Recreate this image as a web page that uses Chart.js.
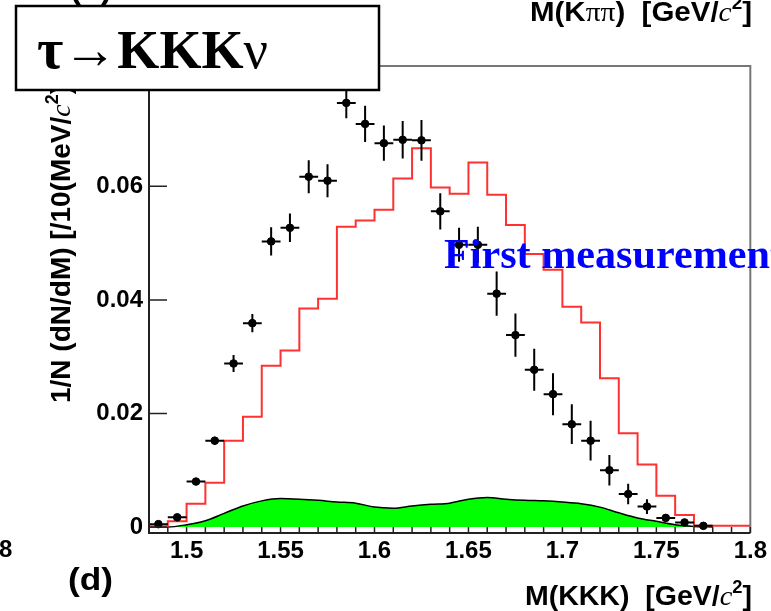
<!DOCTYPE html>
<html>
<head>
<meta charset="utf-8">
<script src="https://cdn.jsdelivr.net/npm/chart.js@4.4.1/dist/chart.umd.min.js"></script>
<style>
  html, body { margin: 0; padding: 0; background: #fff; }
  #wrap { width: 771px; height: 611px; }
</style>
</head>
<body>
<div id="wrap"><canvas id="myChart" width="771" height="611"></canvas></div>
<script>
// bin edges / centres of the M(KKK) histogram (10 MeV bins)
const binEdges = [1.48, 1.49, 1.50, 1.51, 1.52, 1.53, 1.54, 1.55, 1.56, 1.57, 1.58,
    1.59, 1.60, 1.61, 1.62, 1.63, 1.64, 1.65, 1.66, 1.67, 1.68, 1.69, 1.70,
    1.71, 1.72, 1.73, 1.74, 1.75, 1.76, 1.77, 1.78, 1.79, 1.80];
const binCenters = [1.485, 1.495, 1.505, 1.515, 1.525, 1.535, 1.545, 1.555, 1.565, 1.575,
    1.585, 1.595, 1.605, 1.615, 1.625, 1.635, 1.645, 1.655, 1.665, 1.675,
    1.685, 1.695, 1.705, 1.715, 1.725, 1.735, 1.745, 1.755, 1.765, 1.775, 1.785, 1.795];

// data points (black) with errors
const dataValues = [0.0005, 0.0017, 0.0080, 0.0152, 0.0288, 0.0359, 0.0503, 0.0527, 0.0617, 0.0610,
    0.0747, 0.0710, 0.0676, 0.0682, 0.0681, 0.0556, 0.0497, 0.0497, 0.0411, 0.0338,
    0.0277, 0.0234, 0.0181, 0.0152, 0.0100, 0.0058, 0.0036, 0.0016, 0.0008, 0.0002, null, null];
const dataErrors = [0.0003, 0.0005, 0.0006, 0.0007, 0.0015, 0.0016, 0.0025, 0.0025, 0.0029, 0.0029,
    0.0027, 0.0032, 0.0031, 0.0033, 0.0036, 0.0032, 0.0030, 0.0032, 0.0039, 0.0038,
    0.0037, 0.0037, 0.0035, 0.0035, 0.0027, 0.0018, 0.0013, 0.0007, 0.0005, 0.0003, null, null];

// red histogram
const mcValues = [0.0001, 0.0010, 0.0041, 0.0078, 0.0152, 0.0194, 0.0284, 0.0311, 0.0385, 0.0402,
    0.0529, 0.0540, 0.0559, 0.0614, 0.0667, 0.0598, 0.0587, 0.0642, 0.0585, 0.0532,
    0.0481, 0.0453, 0.0388, 0.0360, 0.0262, 0.0165, 0.0110, 0.0055, 0.0021, 0.0002, 0.0002, 0.0002];

// green background
const bkgMass = [1.48, 1.49, 1.50, 1.51, 1.52, 1.53, 1.54, 1.55, 1.56, 1.57, 1.58, 1.59, 1.60,
    1.61, 1.62, 1.63, 1.64, 1.65, 1.66, 1.67, 1.68, 1.69, 1.70, 1.71, 1.72, 1.73,
    1.74, 1.75, 1.76, 1.77, 1.78];
const bkgValues = [0, 0, 0.0004, 0.0011, 0.0024, 0.0037, 0.0046, 0.0050, 0.0049, 0.0047, 0.0044,
    0.0042, 0.0035, 0.0033, 0.0037, 0.0040, 0.0042, 0.0049, 0.0052, 0.0049, 0.0047,
    0.0046, 0.0044, 0.0041, 0.0035, 0.0025, 0.0016, 0.0010, 0.0004, 0.0001, 0];

const xMajorTicks = [1.5, 1.55, 1.6, 1.65, 1.7, 1.75, 1.8];
const xTickLabels = ['1.5', '1.55', '1.6', '1.65', '1.7', '1.75', '1.8'];
const yTicks = [0, 0.02, 0.04, 0.06, 0.08];
const yTickLabels = ['0', '0.02', '0.04', '0.06', '0.08'];

const SANS = "'Liberation Sans', Arial, sans-serif";
const SERIF = "'Liberation Serif', 'Times New Roman', serif";

// draw a run of text pieces, optionally squeezed to a width and rotated
function drawRich(ctx, parts, x, y, width, rot) {
    ctx.save();
    let total = 0;
    parts.forEach(p => { ctx.font = p.font; p.w = ctx.measureText(p.t).width; total += p.w; });
    const sx = width ? width / total : 1;
    ctx.translate(x, y);
    if (rot) ctx.rotate(rot);
    ctx.scale(sx, 1);
    ctx.textBaseline = 'alphabetic';
    ctx.textAlign = 'left';
    let cx = 0;
    parts.forEach(p => {
        ctx.font = p.font;
        ctx.fillStyle = p.color || '#000';
        ctx.fillText(p.t, cx, p.dy || 0);
        cx += p.w;
    });
    ctx.restore();
}

const decorPlugin = {
    id: 'decor',
    afterDatasetsDraw(chart) {
        const {ctx, scales: {x, y}} = chart;
        ctx.save();
        ctx.strokeStyle = '#000';
        ctx.lineWidth = 2;
        binCenters.forEach((m, i) => {
            if (dataValues[i] === null) return;
            const px = x.getPixelForValue(m);
            const py = y.getPixelForValue(dataValues[i]);
            ctx.beginPath();
            ctx.moveTo(x.getPixelForValue(m - 0.005), py);
            ctx.lineTo(x.getPixelForValue(m + 0.005), py);
            ctx.moveTo(px, y.getPixelForValue(dataValues[i] - dataErrors[i]));
            ctx.lineTo(px, y.getPixelForValue(dataValues[i] + dataErrors[i]));
            ctx.stroke();
        });
        ctx.restore();
    },
    afterDraw(chart) {
        const {ctx, chartArea: a, scales: {x, y}} = chart;
        ctx.save();
        // frame
        ctx.lineWidth = 2;
        ctx.strokeStyle = '#777';
        ctx.beginPath();
        ctx.moveTo(a.left, a.top); ctx.lineTo(a.right, a.top); ctx.lineTo(a.right, a.bottom);
        ctx.stroke();
        ctx.strokeStyle = '#222';
        ctx.beginPath();
        ctx.moveTo(a.left, a.top); ctx.lineTo(a.left, a.bottom); ctx.lineTo(a.right, a.bottom);
        ctx.stroke();
        // ticks, drawn inside the frame
        ctx.lineWidth = 1.5;
        ctx.beginPath();
        x.ticks.forEach(t => {
            const px = x.getPixelForValue(t.value);
            ctx.moveTo(px, a.bottom); ctx.lineTo(px, a.bottom - 6);
        });
        y.ticks.forEach(t => {
            const py = y.getPixelForValue(t.value);
            ctx.moveTo(a.left, py); ctx.lineTo(a.left + 18, py);
        });
        ctx.stroke();
        ctx.restore();

        // y axis title
        drawRich(ctx, [
            {t: '1/N (dN/dM) [/10(MeV/', font: 'bold 28px ' + SANS},
            {t: 'c', font: 'italic 28px ' + SERIF},
            {t: '2', font: 'bold 18px ' + SANS, dy: -12},
            {t: ')]', font: 'bold 28px ' + SANS}
        ], 70, 403, null, -Math.PI / 2);

        // x axis title
        const xt = [
            {t: 'M(KKK)  [GeV/', font: 'bold 28px ' + SANS},
            {t: 'c', font: 'italic 28px ' + SERIF},
            {t: '2', font: 'bold 18px ' + SANS, dy: -12},
            {t: ']', font: 'bold 28px ' + SANS}
        ];
        drawRich(ctx, xt, 525, 605, 227);

        // leftovers of neighbouring panels
        const tt = [
            {t: 'M(K', font: 'bold 28px ' + SANS},
            {t: 'ππ', font: '28px ' + SERIF},
            {t: ')  [GeV/', font: 'bold 28px ' + SANS},
            {t: 'c', font: 'italic 28px ' + SERIF},
            {t: '2', font: 'bold 18px ' + SANS, dy: -12},
            {t: ']', font: 'bold 28px ' + SANS}
        ];
        drawRich(ctx, tt, 530, 21, 222);
        drawRich(ctx, [{t: '(d)', font: 'bold 32px ' + SANS}], 68, 590, 45);
        drawRich(ctx, [{t: '8', font: 'bold 24px ' + SANS}], -1, 557);
        drawRich(ctx, [{t: '(b)', font: 'bold 32px ' + SANS}], 70, -2, 42);

        // channel box
        ctx.save();
        ctx.fillStyle = '#fff';
        ctx.fillRect(16, 6, 363, 84);
        ctx.lineWidth = 2.5;
        ctx.strokeStyle = '#000';
        ctx.strokeRect(16, 6, 363, 84);
        ctx.restore();
        drawRich(ctx, [
            {t: 'τ', font: 'bold 58px ' + SERIF},
            {t: '→', font: 'bold 55px ' + SERIF},
            {t: 'KKK', font: 'bold 55px ' + SERIF},
            {t: 'ν', font: '55px ' + SERIF}
        ], 37, 68, 231);

        drawRich(ctx, [{t: 'First measurement', font: 'bold 42px ' + SERIF, color: '#0000ff'}], 444, 268, 340);
    }
};

const ctx = document.getElementById('myChart').getContext('2d');
const myChart = new Chart(ctx, {
    type: 'scatter',
    data: {
        datasets: [
            {
                label: 'data',
                data: binCenters.map((m, i) => ({x: m, y: dataValues[i]})),
                backgroundColor: '#000',
                borderColor: '#000',
                pointRadius: 3.8,
                pointHoverRadius: 3.8,
                showLine: false,
                order: 1
            },
            {
                label: 'MC',
                data: binEdges.map((e, i) => ({x: e, y: mcValues[Math.min(i, mcValues.length - 1)]})),
                borderColor: '#ff3030',
                borderWidth: 2,
                pointRadius: 0,
                showLine: true,
                stepped: true,
                fill: false,
                order: 2
            },
            {
                label: 'background',
                data: bkgMass.map((m, i) => ({x: m, y: bkgValues[i]})),
                borderColor: '#000',
                borderWidth: 1.5,
                backgroundColor: '#00ff00',
                pointRadius: 0,
                showLine: true,
                fill: 'origin',
                cubicInterpolationMode: 'monotone',
                order: 3
            }
        ]
    },
    options: {
        responsive: false,
        animation: false,
        events: [],
        layout: {padding: {top: 66, right: 20, bottom: 0, left: 0}},
        plugins: {
            legend: {display: false},
            tooltip: {enabled: false}
        },
        scales: {
            x: {
                type: 'linear',
                min: 1.48,
                max: 1.80,
                afterBuildTicks: (scale) => { scale.ticks = binEdges.map(v => ({value: v})); },
                afterFit: (scale) => { scale.height = 78; },
                grid: {display: false, drawTicks: false},
                border: {display: false},
                ticks: {
                    autoSkip: false,
                    maxRotation: 0,
                    minRotation: 0,
                    padding: 4,
                    color: '#000',
                    font: {family: SANS, size: 24, weight: 'bold'},
                    callback: (v) => {
                        const i = xMajorTicks.findIndex(t => Math.abs(t - v) < 1e-9);
                        return i >= 0 ? xTickLabels[i] : '';
                    }
                }
            },
            y: {
                type: 'linear',
                min: -0.00106,
                max: 0.0812,
                afterBuildTicks: (scale) => { scale.ticks = yTicks.map(v => ({value: v})); },
                afterFit: (scale) => { scale.width = 149; },
                grid: {display: false, drawTicks: false},
                border: {display: false},
                ticks: {
                    padding: 6,
                    color: '#000',
                    font: {family: SANS, size: 24, weight: 'bold'},
                    callback: (v) => {
                        const i = yTicks.findIndex(t => Math.abs(t - v) < 1e-9);
                        return i >= 0 ? yTickLabels[i] : '';
                    }
                }
            }
        }
    },
    plugins: [decorPlugin]
});
</script>
</body>
</html>
